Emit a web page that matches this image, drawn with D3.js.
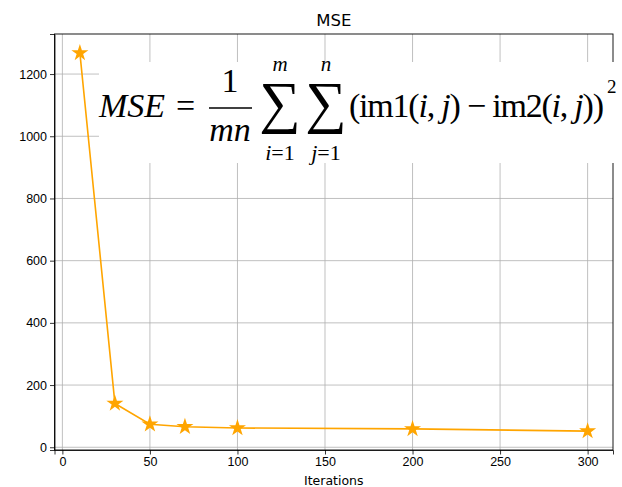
<!DOCTYPE html>
<html>
<head>
<meta charset="utf-8">
<script src="https://cdn.jsdelivr.net/npm/d3@7"></script>
<style>
  body { margin: 0; background: #fff; }
  svg { display: block; font-family: "DejaVu Sans", sans-serif; }
  .axis text { font-size: 12.5px; fill: #000; }
  .axis path, .axis line { stroke: #000; stroke-width: 0.8; }
  .grid line { stroke: #b0b0b0; stroke-width: 0.8; }
  .fx { font-family: "Liberation Serif", "DejaVu Serif", serif; fill: #000; }
</style>
</head>
<body>
<script>
// data
var iterations = [10, 30, 50, 70, 100, 200, 300];
var mse = [1268, 141, 74, 66, 62, 59, 52];
var xTicks = [0, 50, 100, 150, 200, 250, 300];
var yTicks = [0, 200, 400, 600, 800, 1000, 1200];

var W = 622, H = 487;
var margin = {top: 34, right: 9, bottom: 37, left: 54.5};

var svg = d3.select("body").append("svg")
  .attr("width", W)
  .attr("height", H);

// matplotlib style 5% margins
var xr = 300 - 10, yr = 1268 - 52;
var x = d3.scaleLinear()
  .domain([10 - 0.05 * xr, 300 + 0.05 * xr])
  .range([margin.left, W - margin.right]);
var y = d3.scaleLinear()
  .domain([52 - 0.05 * yr, 1268 + 0.05 * yr])
  .range([H - margin.bottom, margin.top]);

var grid = svg.append("g").attr("class", "grid");
grid.selectAll(".gx")
  .data(xTicks)
  .enter().append("line")
    .attr("x1", function(d) { return x(d); })
    .attr("x2", function(d) { return x(d); })
    .attr("y1", margin.top)
    .attr("y2", H - margin.bottom);
grid.selectAll(".gy")
  .data(yTicks)
  .enter().append("line")
    .attr("y1", function(d) { return y(d); })
    .attr("y2", function(d) { return y(d); })
    .attr("x1", margin.left)
    .attr("x2", W - margin.right);

// the line + star markers
var line = d3.line()
  .x(function(d) { return x(d[0]); })
  .y(function(d) { return y(d[1]); });
var pts = d3.zip(iterations, mse);

svg.append("path")
  .attr("d", line(pts))
  .attr("fill", "none")
  .attr("stroke", "orange")
  .attr("stroke-width", 1.6);

svg.selectAll(".star")
  .data(pts)
  .enter().append("path")
    .attr("class", "star")
    .attr("transform", function(d) { return "translate(" + x(d[0]) + "," + y(d[1]) + ")"; })
    .attr("d", d3.symbol().type(d3.symbolStar).size(90))
    .attr("fill", "orange");

// axes
svg.append("g")
  .attr("class", "axis")
  .attr("transform", "translate(0," + (H - margin.bottom) + ")")
  .call(d3.axisBottom(x).tickValues(xTicks).tickFormat(d3.format("d")).tickSize(4.5).tickPadding(3));
svg.append("g")
  .attr("class", "axis")
  .attr("transform", "translate(" + margin.left + ",0)")
  .call(d3.axisLeft(y).tickValues(yTicks).tickFormat(d3.format("d")).tickSize(4.5).tickPadding(3));

// box spines
svg.append("rect")
  .attr("x", margin.left)
  .attr("y", margin.top)
  .attr("width", W - margin.right - margin.left)
  .attr("height", H - margin.bottom - margin.top)
  .attr("fill", "none")
  .attr("stroke", "#000")
  .attr("stroke-width", 0.9);

svg.append("text")
  .attr("x", (margin.left + W - margin.right) / 2)
  .attr("y", 26)
  .attr("text-anchor", "middle")
  .style("font-size", "16.5px")
  .text("MSE");

svg.append("text")
  .attr("x", (margin.left + W - margin.right) / 2)
  .attr("y", 485)
  .attr("text-anchor", "middle")
  .style("font-size", "12.5px")
  .text("Iterations");

// the formula, drawn over the plot on a white patch
var f = svg.append("g");
f.append("rect")
  .attr("x", 99).attr("y", 62)
  .attr("width", W - 99).attr("height", 101)
  .attr("fill", "#fff");

function ftext(tx, ty, size, str, italic, anchor) {
  return f.append("text")
    .attr("class", "fx")
    .attr("x", tx).attr("y", ty)
    .attr("text-anchor", anchor || "start")
    .style("font-size", size + "px")
    .style("font-style", italic ? "italic" : "normal")
    .text(str);
}

ftext(99, 117, 34, "MSE", true);
ftext(176, 117, 34, "=", false);
ftext(230, 92, 34, "1", false, "middle");
f.append("line")
  .attr("x1", 209).attr("x2", 252)
  .attr("y1", 108).attr("y2", 108)
  .attr("stroke", "#000").attr("stroke-width", 1.4);
ftext(230, 141, 34, "mn", true, "middle");

ftext(280, 122, 58, "\u2211", false, "middle");
ftext(280, 71, 21, "m", true, "middle");
var l1 = ftext(280, 160, 22, "", false, "middle");
l1.append("tspan").style("font-style", "italic").text("i");
l1.append("tspan").text("=1");

ftext(326, 122, 58, "\u2211", false, "middle");
ftext(326, 71, 21, "n", true, "middle");
var l2 = ftext(326, 160, 22, "", false, "middle");
l2.append("tspan").style("font-style", "italic").text("j");
l2.append("tspan").text("=1");

var body = ftext(349, 117, 34, "", false);
body.append("tspan").text("(im1(");
body.append("tspan").style("font-style", "italic").text("i");
body.append("tspan").text(", ");
body.append("tspan").style("font-style", "italic").text("j");
body.append("tspan").text(") \u2212 im2(");
body.append("tspan").style("font-style", "italic").text("i");
body.append("tspan").text(", ");
body.append("tspan").style("font-style", "italic").text("j");
body.append("tspan").text("))");
body.attr("textLength", 255).attr("lengthAdjust", "spacing");
ftext(607, 93, 19, "2", false);
</script>
</body>
</html>
